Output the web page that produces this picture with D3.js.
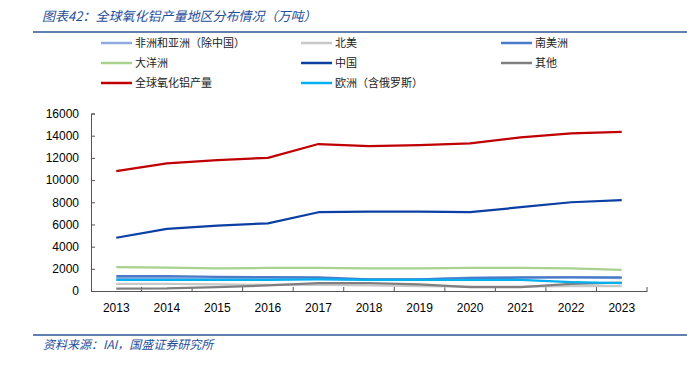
<!DOCTYPE html>
<html lang="zh">
<head>
<meta charset="UTF-8">
<title>全球氧化铝产量地区分布情况</title>
<script src="https://d3js.org/d3.v7.min.js"></script>
<style>
  body { margin: 0; background: #fff; }
  #chart { width: 687px; height: 371px; }
  text { font-family: "Noto Sans CJK SC", "Liberation Sans", sans-serif; }
  .tick text { font-family: "Liberation Sans", Arial, sans-serif; font-size: 12px; fill: #000; }
</style>
</head>
<body>
<div id="chart"></div>
<script>
const years = ["2013","2014","2015","2016","2017","2018","2019","2020","2021","2022","2023"];
const yTicks = [0, 2000, 4000, 6000, 8000, 10000, 12000, 14000, 16000];

// 万吨
const africaAsia = [1150, 1150, 1100, 1100, 1100, 1050, 1050, 1200, 1250, 1250, 1150];
const northAmerica = [650, 650, 600, 550, 550, 500, 450, 400, 400, 450, 450];
const southAmerica = [1350, 1330, 1280, 1250, 1230, 1050, 1050, 1150, 1200, 1230, 1230];
const oceania = [2150, 2100, 2050, 2080, 2080, 2050, 2050, 2080, 2080, 2030, 1900];
const china = [4800, 5600, 5900, 6100, 7100, 7150, 7150, 7100, 7550, 8000, 8200];
const others = [220, 230, 350, 500, 700, 700, 600, 350, 350, 650, 750];
const total = [10800, 11500, 11800, 12000, 13250, 13050, 13150, 13300, 13850, 14200, 14350];
const europe = [1000, 1000, 1000, 1000, 1050, 1000, 1000, 1000, 1000, 800, 700];

const series = [
  { name: "非洲和亚洲（除中国）", values: africaAsia, color: "#8FAADC" },
  { name: "北美", values: northAmerica, color: "#C8C8C8" },
  { name: "南美洲", values: southAmerica, color: "#4A7BC8" },
  { name: "大洋洲", values: oceania, color: "#A9D18E" },
  { name: "中国", values: china, color: "#0B3FA3" },
  { name: "其他", values: others, color: "#7F7F7F" },
  { name: "全球氧化铝产量", values: total, color: "#C00000" },
  { name: "欧洲（含俄罗斯）", values: europe, color: "#00B0F0" }
];

const width = 687, height = 371;
const svg = d3.select("#chart").append("svg")
  .attr("width", width).attr("height", height);

// title + rules
svg.append("text")
  .attr("x", 42).attr("y", 21)
  .attr("font-size", 13).attr("font-style", "italic")
  .attr("fill", "#1F4E9A")
  .text("图表42：全球氧化铝产量地区分布情况（万吨）");
svg.append("line").attr("x1", 33).attr("x2", 687).attr("y1", 32).attr("y2", 32)
  .attr("stroke", "#2E5597").attr("stroke-width", 1.5);
svg.append("line").attr("x1", 33).attr("x2", 687).attr("y1", 335).attr("y2", 335)
  .attr("stroke", "#2E5597").attr("stroke-width", 1.5);
svg.append("text")
  .attr("x", 43).attr("y", 349)
  .attr("font-size", 12).attr("font-style", "italic")
  .attr("fill", "#1F4E9A")
  .text("资料来源：IAI，国盛证券研究所");

// legend
const legend = svg.append("g");
series.forEach((s, i) => {
  const col = i % 3, row = Math.floor(i / 3);
  const g = legend.append("g").attr("transform", `translate(${101 + col * 200},${43 + row * 20})`);
  g.append("line").attr("x1", 0).attr("x2", 31).attr("stroke", s.color).attr("stroke-width", 2.5);
  g.append("text").attr("x", 34).attr("y", 4).attr("font-size", 11).attr("fill", "#222").text(s.name);
});

// scales
const x = d3.scaleBand().domain(years).range([91, 647]);
const y = d3.scaleLinear().domain([0, 16000]).range([291, 113.5]);

// axes
const yAxis = svg.append("g").attr("transform", "translate(91,0)")
  .call(d3.axisLeft(y).tickValues(yTicks).tickFormat(d3.format("d")).tickSize(-4).tickPadding(12));
yAxis.selectAll("line, path").attr("stroke", "#555");

const xAxis = svg.append("g").attr("transform", "translate(0,291)")
  .call(d3.axisBottom(x).tickSize(0).tickPadding(12));
xAxis.select(".domain").attr("stroke", "#555");
// category boundary ticks
xAxis.selectAll(".sep").data(d3.range(1, years.length + 1)).enter().append("line")
  .attr("class", "sep")
  .attr("x1", i => 91 + i * x.step()).attr("x2", i => 91 + i * x.step())
  .attr("y1", 0).attr("y2", -4).attr("stroke", "#555");

// lines
const line = d3.line()
  .x((d, i) => x(years[i]) + x.bandwidth() / 2)
  .y(d => y(d));

svg.append("g").selectAll("path").data(series).enter().append("path")
  .attr("d", d => line(d.values))
  .attr("fill", "none")
  .attr("stroke", d => d.color)
  .attr("stroke-width", 2.25)
  .attr("stroke-linejoin", "round");
</script>
</body>
</html>
